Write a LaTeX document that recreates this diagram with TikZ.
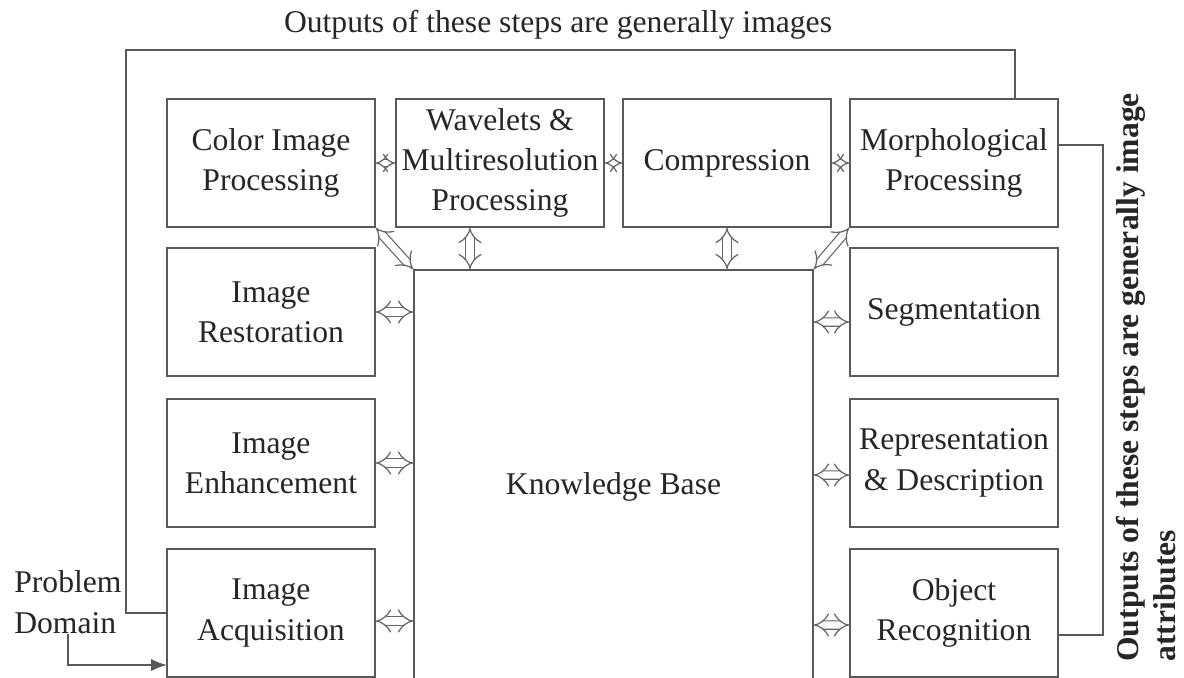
\documentclass[tikz,border=0pt]{standalone}
\usepackage{fontspec}
\setmainfont{Liberation Serif}
\usetikzlibrary{calc}
\usetikzlibrary{arrows.meta}

\begin{document}
\begin{tikzpicture}[x=0.02cm, y=-0.02cm,
  stage/.style={draw=black!65, line width=1pt, minimum width=4.16cm, minimum height=2.56cm,
    inner sep=0pt, align=center, text=black!85, font=\fontsize{18}{23}\selectfont},
  link/.style={draw=black!65, line width=1pt},
  dbl/.style={draw=black!60, line width=0.7pt, double=white, double distance=4pt, {Implies}-{Implies}},
  ]
\useasboundingbox (0,0) rectangle (1184,677);
\clip (0,0) rectangle (1184,677);

% top row
\node[stage] (color) at (271,163) {Color Image\\Processing};
\node[stage] (wave) at (500,163) {Wavelets \&\\Multiresolution\\Processing};
\node[stage] (comp) at (727,163) {Compression};
\node[stage] (morph) at (954,163) {Morphological\\Processing};

% left column
\node[stage] (rest) at (271,312) {Image\\Restoration};
\node[stage] (enh) at (271,463) {Image\\Enhancement};
\node[stage] (acq) at (271,613) {Image\\Acquisition};

% right column
\node[stage] (seg) at (954,312) {Segmentation};
\node[stage] (repr) at (954,463) {Representation\\\& Description};
\node[stage] (obj) at (954,613) {Object\\Recognition};

\node[stage, minimum width=7.98cm, minimum height=8.68cm] (kb) at (613.5,487) {Knowledge Base};

\node[text=black!85, font=\fontsize{18}{23}\selectfont] (outimg) at (558,25) {Outputs of these steps are generally images};
\node[rotate=90, anchor=north west, align=left, inner sep=0pt, text=black!85, font=\fontsize{18}{21}\selectfont\bfseries] (outattr) at (1116,662) {Outputs of these steps are generally image\\attributes};
\node[anchor=west, align=left, inner sep=0pt, text=black!85, font=\fontsize{18}{23}\selectfont] (pd) at (14,602) {Problem\\Domain};

\coordinate (pdin) at (167,665);
\coordinate (fbl) at (126,50);
\coordinate (fbr) at (1015,50);
\coordinate (fbt) at (1103,145);
\coordinate (fbb) at (1103,635);

\draw[link, -{Latex[length=9pt,width=7pt]}] (pd.south) |- (pdin); % input
\draw[link] (acq.west) -| (fbl) -- (fbr) -- (fbr |- morph.north); % images
\draw[link] (morph.east |- fbt) -- (fbt) -- (fbb) -- (obj.east |- fbb); % attributes

\draw[dbl, double distance=3pt] (color.east) -- (wave.west);
\draw[dbl, double distance=3pt] (wave.east) -- (comp.west);
\draw[dbl, double distance=3pt] (comp.east) -- (morph.west);

\draw[dbl] ([xshift=-0.6cm]wave.south) -- ([xshift=-0.6cm]wave.south |- kb.north);
\draw[dbl] (comp.south) -- (comp.south |- kb.north);
\draw[dbl] (color.south east) -- (kb.north west);
\draw[dbl] (morph.south west) -- (kb.north east);

\draw[dbl] (rest.east) -- (rest.east -| kb.west);
\draw[dbl] (enh.east) -- (enh.east -| kb.west);
\draw[dbl] ([yshift=-0.16cm]acq.east) -- ([yshift=-0.16cm]acq.east -| kb.west);
\draw[dbl] (kb.east |- seg.west) ++(0,10) -- ([yshift=-0.2cm]seg.west);
\draw[dbl] (kb.east |- repr.west) ++(0,12) -- ([yshift=-0.24cm]repr.west);
\draw[dbl] (kb.east |- obj.west) ++(0,12) -- ([yshift=-0.24cm]obj.west);

\end{tikzpicture}
\end{document}
